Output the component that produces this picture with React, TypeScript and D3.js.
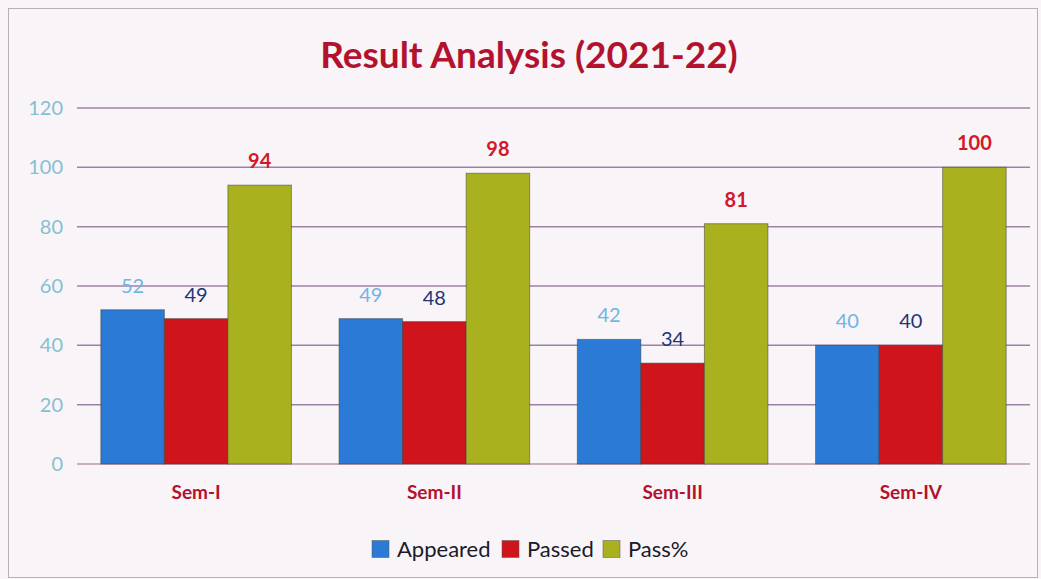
import * as d3 from "d3";
import {useEffect, useRef} from "react";

const semesters = ["Sem-I", "Sem-II", "Sem-III", "Sem-IV"];
const seriesNames = ["Appeared", "Passed", "Pass%"];
const appeared = [52, 49, 42, 40];
const passed = [49, 48, 34, 40];
const passPct = [94, 98, 81, 100];
const yTicks = [0, 20, 40, 60, 80, 100, 120];

const barColors = ["#2b7bd6", "#d0141c", "#a9b21e"];
const labelColors = ["#6fb6e4", "#1f3577", "#d4162a"];

const W = 1041, H = 579;
const FONT = "Lato, 'Open Sans', sans-serif";

const App = () => {
    const ref = useRef<SVGSVGElement>(null);

    useEffect(() => {
        const svg = d3.select(ref.current);
        svg.selectAll("*").remove();

        const margin = {top: 108, right: 11, bottom: 115, left: 77};
        const width = W - margin.left - margin.right;
        const height = H - margin.top - margin.bottom;

        svg.append("rect")
            .attr("x", 0).attr("y", 0).attr("width", W).attr("height", H)
            .attr("fill", "#f8f4f7");
        svg.append("rect")
            .attr("x", 8.5).attr("y", 8.5).attr("width", W - 12).attr("height", H - 10)
            .attr("fill", "none").attr("stroke", "#b8b0b8");

        // title
        svg.append("text")
            .attr("x", 529).attr("y", 68)
            .attr("text-anchor", "middle")
            .attr("font-family", FONT)
            .attr("font-weight", "bold")
            .attr("font-size", 37)
            .attr("fill", "#b3122e")
            .text("Result Analysis (2021-22)");

        const g = svg.append("g").attr("transform", `translate(${margin.left}, ${margin.top})`);

        const x0 = d3.scaleBand().domain(semesters).range([0, width]).paddingInner(0.2).paddingOuter(0.1);
        const x1 = d3.scaleBand().domain(seriesNames).range([0, x0.bandwidth()]);
        const y = d3.scaleLinear().domain([0, 120]).range([height, 0]);

        // gridlines
        g.selectAll(".grid")
            .data(yTicks)
            .join("line")
            .attr("x1", 0).attr("x2", width)
            .attr("y1", d => y(d)).attr("y2", d => y(d))
            .attr("stroke", d => d === 0 ? "#b89aa8" : "#9c83a6")
            .attr("stroke-width", 1.5);

        // y labels
        g.selectAll(".ytick")
            .data(yTicks)
            .join("text")
            .attr("x", -14).attr("y", d => y(d))
            .attr("dy", "0.35em")
            .attr("text-anchor", "end")
            .attr("font-family", FONT)
            .attr("font-size", 20)
            .attr("fill", "#86bfd2")
            .text(d => d);

        const allSeries = [appeared, passed, passPct];
        const rows = semesters.map((s, i) => seriesNames.map((k, j) => ({sem: s, key: k, j, v: allSeries[j][i]})));

        const groups = g.selectAll(".grp")
            .data(rows)
            .join("g")
            .attr("transform", d => `translate(${x0(d[0].sem)}, 0)`);

        groups.selectAll("rect")
            .data(d => d)
            .join("rect")
            .attr("x", d => x1(d.key)!)
            .attr("y", d => y(d.v))
            .attr("width", x1.bandwidth())
            .attr("height", d => height - y(d.v))
            .attr("fill", d => barColors[d.j])
            .attr("stroke", "#3a3a3a")
            .attr("stroke-opacity", 0.5)
            .attr("stroke-width", 1);

        groups.selectAll("text")
            .data(d => d)
            .join("text")
            .attr("x", d => x1(d.key)! + x1.bandwidth() / 2)
            .attr("y", d => y(d.v) - 17)
            .attr("text-anchor", "middle")
            .attr("font-family", FONT)
            .attr("font-size", 20)
            .attr("font-weight", d => d.j === 2 ? "bold" : "normal")
            .attr("fill", d => labelColors[d.j])
            .text(d => d.v);

        // category labels
        g.selectAll(".xlab")
            .data(semesters)
            .join("text")
            .attr("x", d => x0(d)! + x0.bandwidth() / 2)
            .attr("y", height + 35)
            .attr("text-anchor", "middle")
            .attr("font-family", FONT)
            .attr("font-weight", "bold")
            .attr("font-size", 19)
            .attr("fill", "#b3122e")
            .text(d => d);

        // legend
        const legend = svg.append("g").attr("transform", "translate(372, 549)");
        const offsets = [0, 130, 231];
        seriesNames.forEach((name, i) => {
            const lg = legend.append("g").attr("transform", `translate(${offsets[i]}, 0)`);
            lg.append("rect")
                .attr("x", 0).attr("y", -8.5).attr("width", 17).attr("height", 17)
                .attr("fill", barColors[i])
                .attr("stroke", "#555").attr("stroke-opacity", 0.5);
            lg.append("text")
                .attr("x", 25).attr("y", 0).attr("dy", "0.35em")
                .attr("font-family", FONT)
                .attr("font-size", 22)
                .attr("fill", "#1a1a2a")
                .text(name);
        });
    }, []);

    return (
        <svg ref={ref} width={W} height={H}
             style={{position: "absolute", left: 0, top: 0, display: "block"}}/>
    );
};

export default App;
